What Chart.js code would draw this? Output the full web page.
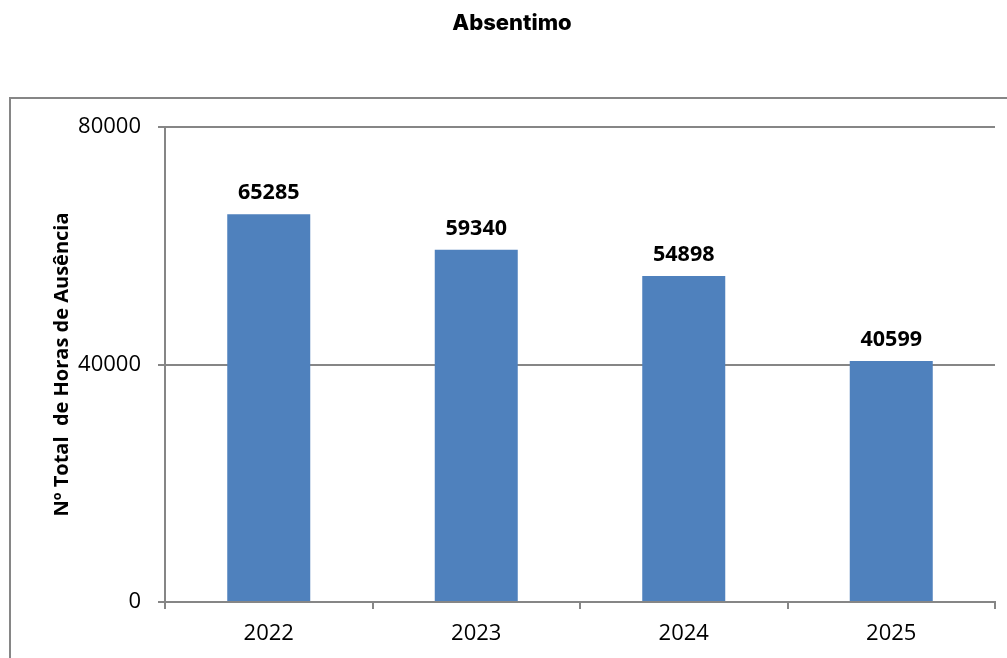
<!DOCTYPE html>
<html>
<head>
<meta charset="utf-8">
<script src="https://cdn.jsdelivr.net/npm/chart.js@4"></script>
<style>
  html, body { margin: 0; padding: 0; background: #fff; }
  #wrap { width: 1007px; height: 658px; position: relative; }
</style>
</head>
<body>
<div id="wrap"><canvas id="absChart"></canvas></div>
<script>
// DATA
const years = ["2022", "2023", "2024", "2025"];
const hours = [65285, 59340, 54898, 40599];
const yTicks = [0, 40000, 80000];

const GRAY = "#868686";
const BLUE = "#4F81BD";

// outer frame + title
const framePlugin = {
    id: "frame",
    beforeDraw(chart) {
        const ctx = chart.ctx;
        ctx.save();
        ctx.strokeStyle = GRAY;
        ctx.lineWidth = 2;
        ctx.strokeRect(10, 98, 1010, 600);
        ctx.fillStyle = "#000";
        ctx.font = "800 22px Inter";
        ctx.textAlign = "center";
        ctx.textBaseline = "middle";
        ctx.fillText("Absentimo", 512, 23);
        ctx.restore();
    }
};

// value labels above each bar
const valueLabels = {
    id: "valueLabels",
    afterDatasetsDraw(chart) {
        const ctx = chart.ctx;
        const meta = chart.getDatasetMeta(0);
        ctx.save();
        ctx.fillStyle = "#000";
        ctx.font = "bold 21.5px 'Open Sans'";
        ctx.textAlign = "center";
        ctx.textBaseline = "alphabetic";
        meta.data.forEach((bar, i) => {
            ctx.fillText(String(hours[i]), bar.x, bar.y - 15);
        });
        ctx.restore();
    }
};

new Chart(document.getElementById("absChart"), {
    type: "bar",
    data: {
        labels: years,
        datasets: [{
            data: hours,
            backgroundColor: BLUE,
            borderWidth: 0,
            barPercentage: 0.8,
            categoryPercentage: 0.5
        }]
    },
    options: {
        responsive: true,
        maintainAspectRatio: false,
        animation: false,
        layout: { padding: { top: 127, right: 12, left: 0, bottom: 0 } },
        plugins: {
            legend: { display: false },
            tooltip: { enabled: false },
            title: { display: false }
        },
        scales: {
            x: {
                grid: {
                    drawOnChartArea: false,
                    drawTicks: true,
                    tickLength: 7,
                    color: GRAY,
                    lineWidth: 2
                },
                border: { color: GRAY, width: 2 },
                ticks: {
                    color: "#000",
                    padding: 12,
                    font: { family: "'Open Sans'", size: 22 }
                },
                afterFit(scale) { scale.height = 56; }
            },
            y: {
                min: 0,
                max: 80000,
                afterBuildTicks(scale) {
                    scale.ticks = yTicks.map(v => ({ value: v }));
                },
                grid: {
                    color: GRAY,
                    lineWidth: 2,
                    tickLength: 7
                },
                border: { color: GRAY, width: 2 },
                ticks: {
                    color: "#000",
                    padding: 17,
                    font: { family: "'Open Sans'", size: 22 },
                    callback: v => String(v)
                },
                title: {
                    display: true,
                    text: "Nº Total  de Horas de Ausência",
                    color: "#000",
                    font: { family: "'Open Sans'", size: 20, weight: "bold" },
                    padding: { top: 50, bottom: 0 }
                },
                afterFit(scale) { scale.width = 165; }
            }
        }
    },
    plugins: [framePlugin, valueLabels]
});
</script>
</body>
</html>
